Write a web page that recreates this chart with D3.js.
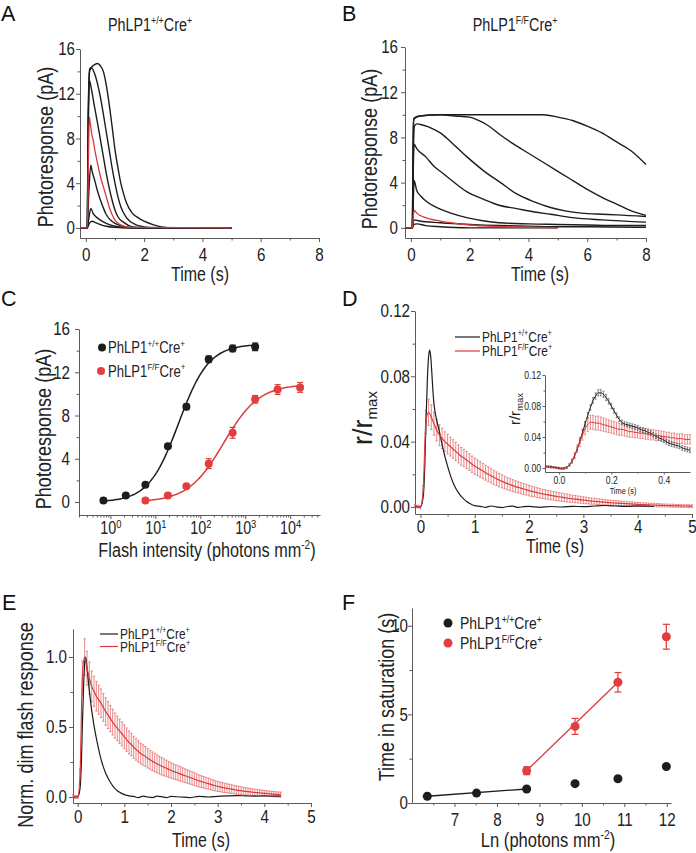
<!DOCTYPE html>
<html><head><meta charset="utf-8">
<script src="https://cdn.jsdelivr.net/npm/d3@7"></script>
<style>body{margin:0;background:#fff}</style>
</head><body>
<svg id="fig" width="696" height="853" xmlns="http://www.w3.org/2000/svg"></svg>
<script>
// ---------------- DATA ----------------
const genotypeWT = ["PhLP1", "+/+", "Cre", "+"];
const genotypeFF = ["PhLP1", "F/F", "Cre", "+"];

// Panel A: PhLP1+/+Cre+ flash responses [time s, pA]
const traceA1 = [[-0.2,0],[0.05,0],[0.12,0.4],[0.2,0.6],[0.35,0.45],[0.5,0.3],[0.7,0.15],[1.0,0.05],[1.5,0],[5,0]];
const traceA2 = [[-0.2,0],[0.05,0],[0.1,0.8],[0.17,1.75],[0.25,1.3],[0.35,1.0],[0.5,0.7],[0.7,0.4],[1.0,0.15],[1.3,0.05],[1.6,0],[5,0]];
const traceA3 = [[-0.2,0],[0.05,0],[0.1,3.0],[0.17,5.6],[0.22,5.0],[0.3,4.3],[0.4,3.3],[0.5,2.5],[0.6,1.8],[0.7,1.2],[0.85,0.7],[1.0,0.4],[1.2,0.2],[1.5,0.05],[5,0]];
const traceA5 = [[-0.2,0],[0.05,0],[0.08,8],[0.12,13.2],[0.2,12.3],[0.3,10.8],[0.4,9.4],[0.5,7.9],[0.6,6.4],[0.7,4.9],[0.8,3.6],[0.9,2.5],[1.0,1.6],[1.1,1.0],[1.3,0.5],[1.6,0.1],[2,0],[5,0]];
const traceA6 = [[-0.2,0],[0.05,0],[0.08,9],[0.13,14.0],[0.2,14.3],[0.3,13.8],[0.4,12.9],[0.5,11.7],[0.6,10.2],[0.7,8.6],[0.8,7.0],[0.9,5.4],[1.0,4.0],[1.1,2.8],[1.2,1.9],[1.4,0.9],[1.7,0.3],[2.0,0.1],[2.3,0],[5,0]];
const traceA7 = [[-0.2,0],[0.05,0],[0.08,10],[0.13,14.2],[0.2,14.4],[0.3,14.6],[0.4,14.7],[0.5,14.5],[0.6,14.0],[0.7,12.8],[0.8,11.1],[0.9,9.1],[1.0,7.0],[1.1,5.4],[1.2,4.0],[1.3,3.0],[1.4,2.2],[1.6,1.3],[1.8,0.9],[2.0,0.6],[2.3,0.3],[2.6,0.1],[3,0],[5,0]];
const traceARed = [[-0.2,0],[0.05,0],[0.09,6],[0.12,9.9],[0.16,9.2],[0.2,8.4],[0.25,7.9],[0.3,7.1],[0.4,5.8],[0.5,4.6],[0.6,3.7],[0.7,2.8],[0.8,1.9],[0.9,1.2],[1.0,0.7],[1.2,0.27],[1.5,0.05],[5,0]];

// Panel B: PhLP1F/FCre+ flash responses [time s, pA]
const traceB1 = [[-0.2,0],[0.05,0],[0.1,0.3],[0.2,0.35],[0.5,0.2],[1.0,0.1],[1.5,0.03],[2,0],[5,0]];
const traceB2 = [[-0.2,0],[0.05,0],[0.1,0.7],[0.3,0.6],[1,0.45],[2,0.3],[3,0.2],[4,0.15],[5,0.1],[6,0.1],[8,0.05]];
const traceB3 = [[-0.2,0],[0.05,0],[0.09,3],[0.11,4.2],[0.2,3.3],[0.34,2.8],[0.5,2.4],[0.8,1.9],[1.0,1.65],[1.36,1.3],[1.9,0.9],[2.5,0.6],[3.0,0.45],[4,0.35],[5,0.3],[6,0.25],[7,0.2],[8,0.2]];
const traceB4 = [[-0.2,0],[0.05,0],[0.08,5],[0.11,7.4],[0.2,7.0],[0.5,6.3],[0.8,5.4],[1.0,5.0],[1.36,4.25],[1.9,3.2],[2.5,2.5],[3.0,2.0],[3.6,1.7],[4.2,1.4],[4.75,1.2],[5.5,0.9],[6.5,0.7],[8,0.5]];
const traceB5 = [[-0.2,0],[0.05,0],[0.08,6],[0.12,9.0],[0.2,9.2],[0.4,9.1],[0.8,8.7],[1.0,8.4],[1.36,7.6],[1.9,6.3],[2.5,5.0],[3.05,4.0],[3.6,3.0],[4.2,2.3],[4.75,1.8],[5.25,1.5],[5.8,1.3],[6.5,1.2],[7.0,1.15],[8.0,1.0]];
const traceB6 = [[-0.2,0],[0.05,0],[0.08,8],[0.1,9.6],[0.3,9.9],[1.0,10.0],[1.5,9.9],[2.0,9.8],[2.3,9.5],[2.6,9.1],[3.0,8.3],[3.5,7.4],[4.0,6.6],[4.5,5.8],[5.0,5.0],[5.5,4.2],[6.0,3.4],[6.5,2.7],[7.0,2.1],[7.5,1.5],[8.0,1.1]];
const traceB7 = [[-0.2,0],[0.05,0],[0.08,8.5],[0.1,9.7],[0.3,9.9],[1,10.0],[2,10.0],[3,10.0],[4,10.0],[4.5,10.0],[5.0,9.8],[5.5,9.5],[6.0,9.0],[6.5,8.4],[7.0,7.6],[7.5,6.8],[8.0,5.6]];
const traceBRed = [[-0.2,0],[0.05,0],[0.09,1.2],[0.12,1.55],[0.2,1.3],[0.5,0.9],[1.0,0.6],[1.5,0.4],[2.0,0.25],[3,0.12],[4,0.05],[5,0]];

// Panel C: intensity-response (photons mm^-2, pA)
const cIntensityWT = [0.7, 2.2, 6, 19, 49, 154, 524, 1660];
const cRespWT      = [0.15, 0.6, 1.6, 5.15, 8.8, 13.2, 14.2, 14.35];
const cErrWT       = [0.1, 0.1, 0.15, 0.2, 0.25, 0.3, 0.3, 0.35];
const cIntensityFF = [6, 19, 49, 154, 524, 1660, 5250, 16600];
const cRespFF      = [0.15, 0.6, 1.45, 3.55, 6.4, 9.5, 10.4, 10.6];
const cErrFF       = [0.1, 0.15, 0.2, 0.45, 0.5, 0.35, 0.45, 0.45];
// Hill fit parameters [rmax, I1/2, n]
const cFitWT = [14.6, 33, 1.3];
const cFitFF = [10.9, 330, 1.1];

// Panel D: dim flash r/rmax (red sampled from -0.1 s every 0.05 s)
const dStart = -0.1, dStep = 0.05;
const dRedMean = [0.0008,0.0003,0,0.010,0.052,0.058,0.055,0.051,0.047,0.044,0.042,0.040,0.0385,0.037,0.0355,0.034,0.0325,0.031,0.030,0.0288,0.0275,0.0262,0.0250,0.0240,0.0230,0.0220,0.0210,0.0200,0.0191,0.0182,0.0173,0.0165,0.0157,0.0150,0.0143,0.0137,0.0131,0.0125,0.0120,0.0115,0.0110,0.0105,0.0100,0.0096,0.0092,0.0088,0.0084,0.0080,0.0077,0.0074,0.0071,0.0068,0.0065,0.0062,0.0060,0.0057,0.0055,0.0052,0.0050,0.0048,0.0046,0.0044,0.0042,0.0040,0.0038,0.0036,0.0035,0.0033,0.0032,0.0030,0.0029,0.0027,0.0026,0.0025,0.0024,0.0023,0.0022,0.0021,0.0020,0.0019,0.0018,0.0017,0.0016,0.0015,0.0014,0.0014,0.0013,0.0012,0.0012,0.0011,0.0010,0.0010,0.0009,0.0009,0.0008,0.0008,0.0007,0.0007,0.0006,0.0006,0.0006,0.0005,0.0005];
const dRedErr = [0.0008,0.0008,0.001,0.003,0.007,0.008,0.0075,0.007,0.0065,0.0063,0.0062,0.006,0.006,0.0058,0.0057,0.0056,0.0055,0.0054,0.0053,0.0052,0.0051,0.005,0.005,
  0.0049,0.0048,0.0047,0.0046,0.0045,0.0044,0.0043,0.0042,0.0041,0.0040,
  0.0039,0.0038,0.0037,0.0036,0.0035,0.0034,0.0034,0.0033,0.0032,0.0032,
  0.0031,0.0030,0.0030,0.0029,0.0028,0.0028,0.0027,0.0027,0.0026,0.0026,
  0.0025,0.0025,0.0024,0.0024,0.0023,0.0022,0.0022,0.0021,0.0021,0.0020,
  0.0020,0.0019,0.0019,0.0018,0.0018,0.0017,0.0017,0.0016,0.0016,0.0015,
  0.0015,0.0015,0.0014,0.0014,0.0014,0.0013,0.0013,0.0013,0.0012,0.0012,
  0.0012,0.0011,0.0011,0.0011,0.0010,0.0010,0.0010,0.0010,0.0009,0.0009,
  0.0009,0.0009,0.0009,0.0008,0.0008,0.0008,0.0008,0.0008,0.0008,0.0008];
const dBlack = [[-0.1,0.0005],[-0.05,0],[0,0],[0.05,0.006],[0.08,0.025],[0.1,0.05],[0.13,0.08],[0.15,0.092],[0.17,0.096],[0.19,0.092],[0.21,0.082],[0.23,0.071],[0.25,0.063],[0.3,0.053],[0.35,0.046],[0.4,0.038],[0.45,0.031],[0.5,0.025],[0.55,0.0195],[0.6,0.015],[0.65,0.0115],[0.7,0.0088],[0.75,0.0065],[0.8,0.0048],[0.85,0.0034],[0.9,0.0023],[0.95,0.0014],[1.0,0.0008],[1.1,0.0004],[1.2,-0.0002],[1.3,0.0006],[1.4,0.0001],[1.5,-0.0004],[1.6,0.0003],[1.7,0.0005],[1.8,-0.0003],[1.9,0.0002],[2.0,0.0004],[2.2,-0.0002],[2.4,0.0003],[2.6,0.0],[2.8,0.0004],[3.0,0.0002],[3.2,0.0006],[3.4,0.0009],[3.6,0.0006],[3.8,0.0004],[4.0,0.0007],[4.2,0.0005],[4.3,0.0004]];

// Panel D inset (sampled from -0.05 s every 0.01 s)
const inStart = -0.05, inStep = 0.01;
const inBlack = [0.002,0.0018,0.0015,0.001,0.0005,0,-0.0005,-0.0003,0.001,0.004,0.009,0.016,0.025,0.035,0.046,0.057,0.068,0.078,0.087,0.093,0.097,0.097,0.095,0.091,0.086,0.080,0.074,0.068,0.063,0.059,0.057,0.056,0.055,0.054,0.053,0.052,0.050,0.049,0.048,0.046,0.045,0.043,0.041,0.039,0.038,0.036,0.034,0.032,0.031,0.030,0.029,0.028,0.026,0.025,0.024,0.023];
const inBlackErr = [0.001,0.001,0.001,0.001,0.001,0.001,0.001,0.001,0.001,0.001,0.0015,0.002,0.002,0.0025,0.003,0.003,0.0035,0.0035,0.004,0.004,0.004,0.004,0.004,0.004,0.0035,0.0035,0.003,0.003,0.003,0.003,0.003,0.003,0.003,0.003,0.003,0.003,0.003,0.003,0.003,0.003,0.003,0.003,0.003,0.003,0.003,0.003,0.003,0.003,0.003,0.003,0.003,0.003,0.003,0.003,0.003,0.003];
const inRed = [0.002,0.0018,0.0015,0.001,0.0005,0,-0.0005,-0.0003,0.001,0.004,0.009,0.016,0.025,0.034,0.043,0.051,0.056,0.059,0.059,0.058,0.058,0.057,0.056,0.055,0.054,0.053,0.052,0.051,0.050,0.050,0.049,0.048,0.047,0.047,0.046,0.046,0.045,0.045,0.044,0.044,0.043,0.043,0.042,0.042,0.041,0.041,0.040,0.040,0.039,0.039,0.038,0.038,0.038,0.037,0.037,0.037];
const inRedErr = [0.001,0.001,0.001,0.001,0.001,0.001,0.001,0.001,0.001,0.002,0.003,0.004,0.005,0.006,0.007,0.008,0.009,0.009,0.009,0.009,0.009,0.0088,0.0086,0.0084,0.0082,0.008,0.0079,0.0078,0.0077,0.0076,0.0075,0.0074,0.0073,0.0072,0.0071,0.007,0.007,0.0069,0.0068,0.0068,0.0067,0.0066,0.0066,0.0065,0.0065,0.0064,0.0064,0.0063,0.0063,0.0062,0.0062,0.0061,0.0061,0.006,0.006,0.006];

// Panel E: normalized dim flash (red sampled from -0.1 s every 0.05 s)
const eStart = -0.1, eStep = 0.05;
const eRedMean = [0.005,0,0,0.15,0.85,1.0,0.92,0.85,0.79,0.755,0.72,0.695,0.67,0.64,0.61,0.585,0.56,0.535,0.51,0.49,0.47,0.45,0.43,
  0.41,0.39,0.375,0.355,0.34,0.325,0.31,0.30,0.29,0.277,
  0.266,0.255,0.246,0.237,0.228,0.22,0.212,0.205,0.197,0.19,
  0.183,0.177,0.171,0.165,0.158,0.152,0.146,0.14,0.134,0.128,
  0.121,0.115,0.11,0.105,0.10,0.095,0.09,0.085,0.08,0.075,
  0.072,0.068,0.065,0.062,0.059,0.056,0.053,0.05,0.047,0.045,
  0.042,0.04,0.038,0.036,0.034,0.032,0.031,0.029,0.028,0.026,
  0.025,0.023,0.022,0.02,0.019,0.018,0.017];
const eRedErr = [0.01,0.01,0.01,0.05,0.12,0.13,0.12,0.115,0.11,0.108,0.106,0.104,0.102,0.10,0.098,0.096,0.094,0.092,0.09,0.088,0.087,0.086,0.085,
  0.083,0.082,0.08,0.079,0.077,0.076,0.074,0.073,0.071,0.07,
  0.068,0.067,0.066,0.064,0.063,0.062,0.06,0.058,0.057,0.055,
  0.054,0.053,0.052,0.051,0.05,0.049,0.048,0.047,0.046,0.045,
  0.044,0.043,0.042,0.041,0.04,0.039,0.038,0.037,0.036,0.035,
  0.034,0.034,0.033,0.032,0.032,0.031,0.03,0.03,0.029,0.028,
  0.027,0.026,0.025,0.025,0.024,0.023,0.022,0.022,0.021,0.02,
  0.02,0.02,0.019,0.019,0.018,0.018,0.018];
const eBlack = [[-0.1,0],[0,0],[0.05,0.06],[0.08,0.25],[0.1,0.5],[0.13,0.82],[0.15,0.95],[0.17,1.0],[0.2,0.92],[0.25,0.76],[0.3,0.62],[0.35,0.51],[0.4,0.42],[0.45,0.34],[0.5,0.27],[0.55,0.215],[0.6,0.17],[0.65,0.135],[0.7,0.105],[0.75,0.08],[0.8,0.06],[0.85,0.045],[0.9,0.033],[0.95,0.024],[1.0,0.017],[1.05,0.012],[1.1,0.008],[1.2,0.004],[1.3,-0.005],[1.4,0.006],[1.5,0.0],[1.6,-0.004],[1.7,0.006],[1.8,0.002],[1.9,-0.004],[2.0,0.004],[2.2,0.0],[2.4,-0.004],[2.6,0.004],[2.8,0.0],[3.0,0.005],[3.2,0.008],[3.4,0.01],[3.6,0.008],[3.8,0.006],[4.0,0.008],[4.2,0.006],[4.35,0.006]];

// Panel F: time in saturation vs ln(intensity)
const fLnWT  = [6.36, 7.52, 8.70, 9.84, 10.85, 11.99];
const fSatWT = [0.38, 0.56, 0.79, 1.09, 1.37, 2.06];
const fLnFF  = [8.70, 9.84, 10.85, 11.99];
const fSatFF = [1.82, 4.32, 6.81, 9.38];
const fErrFF = [0.22, 0.45, 0.55, 0.7];
const fFitWT = [[6.36, 0.38], [8.70, 0.79]];
const fFitFF = [[8.70, 1.82], [10.85, 6.81]];

// ---------------- STYLE ----------------
const FONT = '"Liberation Sans",Arial,sans-serif';
const SX = 0.82;   // horizontal condensing to mimic the narrow typeface
const AXIS = "#5a5a5a", TXT = "#222", BLK = "#1d1d1d", RED = "#dc3a3c", REDERR = "#e5696b", DOTRED = "#e23d3f";
const TICKFS = 18.5, XTFS = 19.5, YTFS = 22;

const svg = d3.select("#fig");

function drawAxes(o) {
  const g = svg.append("g");
  const yBase = o.y.range()[0], xBase = o.x.range()[0];
  const TL = o.tick || 4, ML = o.minorTick || 2.5;
  if (o.xMinor) g.append("g").attr("transform", `translate(0,${yBase})`)
    .call(d3.axisBottom(o.x).tickValues(o.xMinor).tickSize(ML).tickFormat(""))
    .call(s => s.select(".domain").remove());
  if (o.yMinor) g.append("g").attr("transform", `translate(${xBase},0)`)
    .call(d3.axisLeft(o.y).tickValues(o.yMinor).tickSize(ML).tickFormat(""))
    .call(s => s.select(".domain").remove());
  const gx = g.append("g").attr("transform", `translate(0,${yBase})`)
    .call(d3.axisBottom(o.x).tickValues(o.xMajor).tickSize(TL).tickSizeOuter(0).tickPadding(o.xPad).tickFormat(o.xFmt || (d => d)));
  const gy = g.append("g").attr("transform", `translate(${xBase},0)`)
    .call(d3.axisLeft(o.y).tickValues(o.yMajor).tickSize(TL).tickSizeOuter(0).tickPadding(o.yPad).tickFormat(o.yFmt || (d => d)));
  g.selectAll(".domain").attr("stroke", AXIS).attr("stroke-width", 1);
  g.selectAll(".tick line").attr("stroke", AXIS);
  g.selectAll(".tick text").attr("font-family", FONT).attr("font-size", o.fs || TICKFS).attr("fill", TXT)
    .attr("transform", `scale(${SX},1)`)
    .each(function () { const xa = this.getAttribute("x"); if (xa !== null) this.setAttribute("x", (+xa) / SX); });
  return { gx, gy };
}

// condensed text at (x, y)
function ctext(x, y, fs, anchor, rotate) {
  return svg.append("text")
    .attr("transform", `translate(${x},${y})${rotate ? " rotate(-90)" : ""} scale(${SX},1)`)
    .attr("font-size", fs).attr("font-family", FONT).attr("fill", TXT)
    .attr("text-anchor", anchor || "middle");
}
function genotypeText(sel, parts, fs) {
  const sh = fs * 0.38, sf = fs * 0.62;
  sel.append("tspan").text(parts[0]);
  sel.append("tspan").attr("font-size", sf).attr("dy", -sh).text(parts[1]);
  sel.append("tspan").attr("font-size", fs).attr("dy", sh).text(parts[2]);
  sel.append("tspan").attr("font-size", sf).attr("dy", -sh).text(parts[3]);
}
function labelText(x, y, fs, parts, anchor) {
  const t = ctext(x, y, fs, anchor || "start");
  genotypeText(t, parts, fs);
  return t;
}
function addText(x, y, str, fs) { return ctext(x, y, fs, "middle").text(str); }
function yTitle(x, y, str, fs) { return ctext(x, y, fs, "middle", true).text(str); }
function unitTitle(x, y, pre, fs) {
  const t = ctext(x, y, fs, "middle");
  t.append("tspan").text(pre);
  t.append("tspan").attr("font-size", fs * 0.62).attr("dy", -fs * 0.4).text("-2");
  t.append("tspan").attr("font-size", fs).attr("dy", fs * 0.4).text(")");
}
function panelLetter(x, y, s) {
  svg.append("text").attr("x", x).attr("y", y).attr("font-size", 21.5)
    .attr("font-family", FONT).attr("fill", "#111").text(s);
}
function drawLine(g, data, x, y, color, w, curve) {
  g.append("path").datum(data).attr("fill", "none").attr("stroke", color)
    .attr("stroke-width", w).attr("stroke-linejoin", "round")
    .attr("d", d3.line().x(d => x(d[0])).y(d => y(d[1])).curve(curve || d3.curveMonotoneX));
}
function sampled(start, step, vals, errs) {
  return vals.map((v, i) => ({ t: start + i * step, v: v, e: errs ? errs[i] : 0 }));
}
function errBars(g, pts, x, y, color, w, cap) {
  const eb = g.append("g").attr("stroke", color).attr("stroke-width", w);
  eb.selectAll("line.v").data(pts).enter().append("line")
    .attr("x1", d => x(d.t)).attr("x2", d => x(d.t))
    .attr("y1", d => y(d.v - d.e)).attr("y2", d => y(d.v + d.e));
  if (cap) {
    ["lo", "hi"].forEach(k => {
      eb.selectAll("line." + k).data(pts).enter().append("line")
        .attr("x1", d => x(d.t) - cap).attr("x2", d => x(d.t) + cap)
        .attr("y1", d => y(k === "lo" ? d.v - d.e : d.v + d.e))
        .attr("y2", d => y(k === "lo" ? d.v - d.e : d.v + d.e));
    });
  }
}

// ---------------- PANEL A ----------------
{
  const x = d3.scaleLinear().domain([-0.2, 8]).range([80, 319]);
  const y = d3.scaleLinear().domain([-0.9, 16]).range([238, 49]);
  drawAxes({ x, y, xMajor: [0, 2, 4, 6, 8], xMinor: [1, 3, 5, 7], yMajor: [0, 4, 8, 12, 16], yMinor: [2, 6, 10, 14], xPad: 5.5, yPad: 1 });
  const g = svg.append("g");
  [traceA1, traceA2, traceA3, traceA5, traceA6, traceA7].forEach(tr => drawLine(g, tr, x, y, BLK, 1.4));
  drawLine(g, traceARed, x, y, RED, 1.3);
  labelText(150, 30.5, 17.5, genotypeWT, "middle");
  yTitle(52.5, 147, "Photoresponse (pA)", YTFS);
  addText(200, 281, "Time (s)", XTFS);
  panelLetter(1, 21, "A");
}
// ---------------- PANEL B ----------------
{
  const x = d3.scaleLinear().domain([-0.2, 8]).range([405, 646]);
  const y = d3.scaleLinear().domain([-0.9, 16]).range([238, 47]);
  drawAxes({ x, y, xMajor: [0, 2, 4, 6, 8], xMinor: [1, 3, 5, 7], yMajor: [0, 4, 8, 12, 16], yMinor: [2, 6, 10, 14], xPad: 5.5, yPad: 3 });
  const g = svg.append("g");
  [traceB1, traceB2, traceB3, traceB4, traceB5, traceB6, traceB7].forEach(tr => drawLine(g, tr, x, y, BLK, 1.4));
  drawLine(g, traceBRed, x, y, RED, 1.3);
  labelText(515, 30.5, 17.5, genotypeFF, "middle");
  yTitle(376.5, 149, "Photoresponse (pA)", YTFS);
  addText(540, 281, "Time (s)", XTFS);
  panelLetter(342, 21, "B");
}
// ---------------- PANEL C ----------------
{
  const x = d3.scaleLog().domain([0.2, 46000]).range([79, 320]);
  const y = d3.scaleLinear().domain([-1.2, 16]).range([515, 329]);
  const minors = [];
  for (let k = -1; k <= 4; k++) for (let m = 2; m <= 9; m++) { const v = m * Math.pow(10, k); if (v >= 0.2 && v <= 46000) minors.push(v); }
  const { gx } = drawAxes({ x, y, xMajor: [1, 10, 100, 1000, 10000], xMinor: minors, yMajor: [0, 4, 8, 12, 16], yMinor: [2, 6, 10, 14], xPad: 3, yPad: 5, xFmt: () => "" });
  gx.selectAll(".tick text").attr("font-size", 17.5).each(function (d) {
    const t = d3.select(this);
    t.append("tspan").text("10");
    t.append("tspan").attr("font-size", 11.5).attr("dy", "-0.6em").text(Math.round(Math.log10(d)));
  });
  const g = svg.append("g");
  const hill = p => I => p[0] * Math.pow(I, p[2]) / (Math.pow(I, p[2]) + Math.pow(p[1], p[2]));
  const fitPts = (I0, I1, p) => d3.range(0, 121).map(i => { const I = I0 * Math.pow(I1 / I0, i / 120); return [I, hill(p)(I)]; });
  const lineC = d3.line().x(d => x(d[0])).y(d => y(d[1]));
  g.append("path").datum(fitPts(cIntensityWT[0], cIntensityWT[cIntensityWT.length - 1], cFitWT)).attr("fill", "none").attr("stroke", BLK).attr("stroke-width", 1.5).attr("d", lineC);
  g.append("path").datum(fitPts(cIntensityFF[0], cIntensityFF[cIntensityFF.length - 1], cFitFF)).attr("fill", "none").attr("stroke", RED).attr("stroke-width", 1.5).attr("d", lineC);
  const ptsWT = cIntensityWT.map((t, i) => ({ t, v: cRespWT[i], e: cErrWT[i] }));
  const ptsFF = cIntensityFF.map((t, i) => ({ t, v: cRespFF[i], e: cErrFF[i] }));
  errBars(g, ptsWT, x, y, BLK, 1.2, 3);
  errBars(g, ptsFF, x, y, RED, 1.2, 3);
  g.selectAll("circle.wt").data(ptsWT).enter().append("circle").attr("cx", d => x(d.t)).attr("cy", d => y(d.v)).attr("r", 4).attr("fill", BLK);
  g.selectAll("circle.ff").data(ptsFF).enter().append("circle").attr("cx", d => x(d.t)).attr("cy", d => y(d.v)).attr("r", 4).attr("fill", DOTRED);
  svg.append("circle").attr("cx", 102).attr("cy", 347.5).attr("r", 4).attr("fill", BLK);
  svg.append("circle").attr("cx", 101).attr("cy", 371).attr("r", 4).attr("fill", DOTRED);
  labelText(108, 353, 16, genotypeWT);
  labelText(108, 376.5, 16, genotypeFF);
  yTitle(51, 429, "Photoresponse (pA)", YTFS);
  unitTitle(207, 556.5, "Flash intensity (photons mm", 19.8);
  panelLetter(1, 306, "C");
}
// ---------------- PANEL D ----------------
{
  const x = d3.scaleLinear().domain([-0.1, 5]).range([415, 692]);
  const y = d3.scaleLinear().domain([-0.0043, 0.12]).range([514, 311]);
  drawAxes({ x, y, xMajor: [0, 1, 2, 3, 4, 5], xMinor: [0.5, 1.5, 2.5, 3.5, 4.5], yMajor: [0, 0.04, 0.08, 0.12], yMinor: [0.02, 0.06, 0.1], xPad: 2, yPad: 1, yFmt: d3.format(".2f") });
  const g = svg.append("g");
  const red = sampled(dStart, dStep, dRedMean, dRedErr);
  errBars(g, red, x, y, REDERR, 0.8, 1.2);
  drawLine(g, dBlack, x, y, BLK, 1.2);
  drawLine(g, red.map(d => [d.t, d.v]), x, y, RED, 1.2);
  svg.append("line").attr("x1", 455).attr("x2", 480).attr("y1", 337).attr("y2", 337).attr("stroke", BLK).attr("stroke-width", 1.2);
  svg.append("line").attr("x1", 455).attr("x2", 480).attr("y1", 351).attr("y2", 351).attr("stroke", RED).attr("stroke-width", 1.2);
  labelText(482, 342, 14.5, genotypeWT);
  labelText(482, 356, 14.5, genotypeFF);
  const yt = svg.append("text").attr("transform", "translate(372,418) rotate(-90)").attr("font-family", FONT).attr("fill", TXT).attr("text-anchor", "middle");
  yt.append("tspan").attr("font-size", 27).text("r/r");
  yt.append("tspan").attr("font-size", 15).attr("dy", 5).text("max");
  addText(555, 553, "Time (s)", XTFS);
  panelLetter(342, 306, "D");

  // inset
  const xi = d3.scaleLinear().domain([-0.053, 0.5]).range([545, 690]);
  const yi = d3.scaleLinear().domain([-0.005, 0.12]).range([472, 375]);
  drawAxes({ x: xi, y: yi, xMajor: [0, 0.2, 0.4], xMinor: [0.1, 0.3], yMajor: [0, 0.04, 0.08, 0.12], yMinor: [0.02, 0.06, 0.1], tick: 2.5, minorTick: 1.5, xPad: 2, yPad: 1.5, fs: 10.5, xFmt: d3.format(".1f"), yFmt: d3.format(".2f") });
  const gi = svg.append("g");
  const ib = sampled(inStart, inStep, inBlack, inBlackErr);
  const ir = sampled(inStart, inStep, inRed, inRedErr);
  errBars(gi, ir, xi, yi, REDERR, 0.8, 1);
  errBars(gi, ib, xi, yi, "#555", 0.7, 1);
  drawLine(gi, ib.map(d => [d.t, d.v]), xi, yi, BLK, 1);
  drawLine(gi, ir.map(d => [d.t, d.v]), xi, yi, RED, 1);
  const iyt = svg.append("text").attr("transform", "translate(520,409) rotate(-90)").attr("font-family", FONT).attr("fill", TXT).attr("text-anchor", "middle");
  iyt.append("tspan").attr("font-size", 15).text("r/r");
  iyt.append("tspan").attr("font-size", 9.5).attr("dy", 3).text("max");
  addText(623, 493.5, "Time (s)", 9);
}
// ---------------- PANEL E ----------------
{
  const x = d3.scaleLinear().domain([-0.1, 5]).range([73, 311]);
  const y = d3.scaleLinear().domain([-0.043, 1.2]).range([803, 629]);
  drawAxes({ x, y, xMajor: [0, 1, 2, 3, 4, 5], xMinor: [0.5, 1.5, 2.5, 3.5, 4.5], yMajor: [0, 0.5, 1.0], yMinor: [0.25, 0.75], xPad: 3, yPad: 2, yFmt: d3.format(".1f") });
  const g = svg.append("g");
  const red = sampled(eStart, eStep, eRedMean, eRedErr);
  errBars(g, red, x, y, REDERR, 0.8, 1.2);
  drawLine(g, eBlack, x, y, BLK, 1.2);
  drawLine(g, red.map(d => [d.t, d.v]), x, y, RED, 1.2);
  svg.append("line").attr("x1", 100).attr("x2", 118).attr("y1", 634).attr("y2", 634).attr("stroke", BLK).attr("stroke-width", 1.2);
  svg.append("line").attr("x1", 100).attr("x2", 118).attr("y1", 646.5).attr("y2", 646.5).attr("stroke", RED).attr("stroke-width", 1.2);
  labelText(120, 638.5, 14.5, genotypeWT);
  labelText(120, 651.5, 14.5, genotypeFF);
  yTitle(33, 725, "Norm. dim flash response", YTFS);
  addText(201, 847, "Time (s)", XTFS);
  panelLetter(2, 610, "E");
}
// ---------------- PANEL F ----------------
{
  const x = d3.scaleLinear().domain([6, 12.1]).range([412, 671]);
  const y = d3.scaleLinear().domain([0, 11]).range([803, 608]);
  drawAxes({ x, y, xMajor: [7, 8, 9, 10, 11, 12], xMinor: [6.5, 7.5, 8.5, 9.5, 10.5, 11.5], yMajor: [0, 5, 10], yMinor: [2.5, 7.5], xPad: 6, yPad: 0 });
  const g = svg.append("g");
  drawLine(g, fFitWT, x, y, BLK, 1.3, d3.curveLinear);
  drawLine(g, fFitFF, x, y, RED, 1.3, d3.curveLinear);
  const ptsFF = fLnFF.map((t, i) => ({ t, v: fSatFF[i], e: fErrFF[i] }));
  errBars(g, ptsFF, x, y, RED, 1.2, 3.5);
  g.selectAll("circle.wt").data(fLnWT).enter().append("circle").attr("cx", d => x(d)).attr("cy", (d, i) => y(fSatWT[i])).attr("r", 4.5).attr("fill", BLK);
  g.selectAll("circle.ff").data(ptsFF).enter().append("circle").attr("cx", d => x(d.t)).attr("cy", d => y(d.v)).attr("r", 4.5).attr("fill", DOTRED);
  svg.append("circle").attr("cx", 448).attr("cy", 623).attr("r", 4.5).attr("fill", BLK);
  svg.append("circle").attr("cx", 448).attr("cy", 643).attr("r", 4.5).attr("fill", DOTRED);
  labelText(460, 629, 17, genotypeWT);
  labelText(460, 649, 17, genotypeFF);
  yTitle(394, 697, "Time in saturation (s)", YTFS);
  unitTitle(548, 847, "Ln (photons mm", 20.2);
  panelLetter(342, 610, "F");
}
</script>
</body></html>
